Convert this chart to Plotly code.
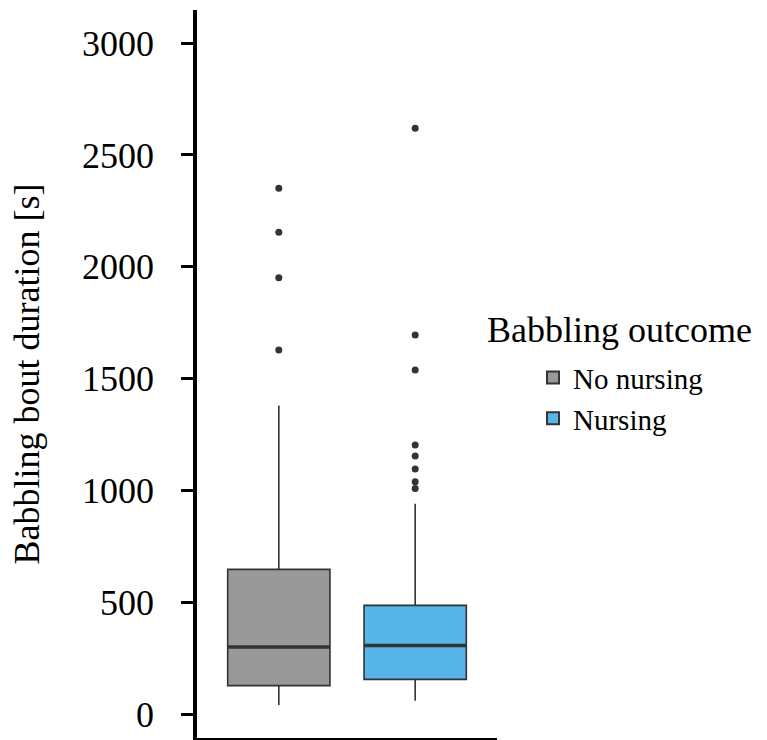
import plotly.graph_objects as go

groups = ["No nursing", "Nursing"]
colors = ["#999999", "#56B4E9"]
q1 = [127, 155]
median = [300, 307]
q3 = [647, 486]
lowerfence = [40, 60]
upperfence = [1380, 940]
outliers = [
    [1628, 1951, 2154, 2351],
    [1009, 1039, 1096, 1154, 1203, 1538, 1695, 2619],
]
yticks = [0, 500, 1000, 1500, 2000, 2500, 3000]
legend_title = "Babbling outcome"

FONT = "Liberation Serif"
BOXW = 0.75
fig = go.Figure()
for i, g in enumerate(groups):
    xpos = i + 1
    fig.add_trace(go.Box(
        x=[xpos], q1=[q1[i]], median=[median[i]], q3=[q3[i]],
        lowerfence=[lowerfence[i]], upperfence=[upperfence[i]],
        name=g, width=BOXW, whiskerwidth=0, boxpoints=False,
        fillcolor=colors[i], line=dict(color="#333333", width=1.6),
        legendgroup=g, showlegend=True,
    ))
    fig.add_trace(go.Scatter(
        x=[xpos - BOXW / 2, xpos + BOXW / 2], y=[median[i], median[i]],
        mode="lines", line=dict(color="#333333", width=3.5),
        showlegend=False, hoverinfo="skip",
    ))
    fig.add_trace(go.Scatter(
        x=[xpos] * len(outliers[i]), y=outliers[i], mode="markers",
        marker=dict(color="#333333", size=7),
        showlegend=False,
    ))

fig.add_annotation(
    text=legend_title, xref="paper", yref="paper",
    x=0.96, xanchor="left", y=0.5604, yanchor="middle",
    showarrow=False, font=dict(size=36, family=FONT, color="black"),
)

fig.update_layout(
    width=767, height=740,
    margin=dict(l=197, r=270, t=10, b=2),
    paper_bgcolor="white", plot_bgcolor="white",
    font=dict(family=FONT, size=36, color="black"),
    showlegend=True,
    legend=dict(
        font=dict(size=29, family=FONT, color="black"),
        x=1.12, xanchor="left", y=0.53, yanchor="top",
        tracegroupgap=0, itemsizing="constant",
        bgcolor="rgba(0,0,0,0)",
    ),
    xaxis=dict(
        range=[0.4, 2.6], showticklabels=False, ticks="",
        showgrid=False, zeroline=False,
        showline=True, linecolor="black", linewidth=3,
    ),
    yaxis=dict(
        range=[-107, 3148], tickvals=yticks, ticktext=[str(v) for v in yticks],
        ticks="outside", ticklen=12, tickwidth=3, tickcolor="black",
        showgrid=False, zeroline=False,
        showline=True, linecolor="black", linewidth=3.5,
        ticklabelstandoff=20,
        tickfont=dict(size=36, family=FONT, color="black"),
        title=dict(text="Babbling bout duration [s]", standoff=32,
                   font=dict(size=36, family=FONT, color="black")),
    ),
)

fig.write_html("out.html")
